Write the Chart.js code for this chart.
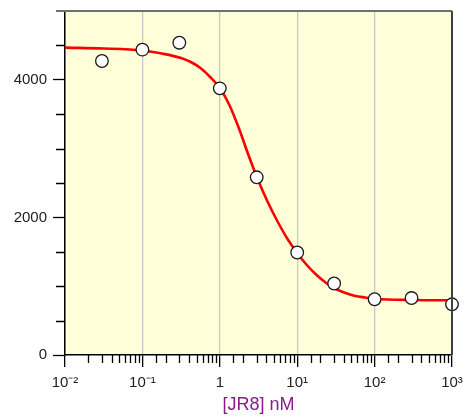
<!DOCTYPE html>
<html><head><meta charset="utf-8">
<script src="https://cdn.jsdelivr.net/npm/chart.js@4/dist/chart.umd.min.js"></script>
<style>html,body{margin:0;padding:0;background:#fff}</style>
</head><body>
<canvas id="c" width="467" height="417" style="width:467px;height:417px;display:block"></canvas>
<script>
// Measured data points: concentration [JR8] (nM) and response
const concentrations = [0.03, 0.1, 0.3, 1, 3, 10, 30, 100, 300, 1000];
const responses = [4273, 4438, 4539, 3876, 2583, 1490, 1039, 810, 828, 737];

// Fitted curve at sample concentrations
const curveX = [0.01, 0.0316, 0.1, 0.178, 0.316, 0.422, 0.562, 0.75, 1,
                1.33, 1.78, 2.37, 3.16, 4.22, 5.62, 7.5, 10,
                13.3, 17.8, 23.7, 31.6, 42.2, 56.2, 75, 100, 316, 1000];
const curveY = [4467, 4455, 4426, 4382, 4317, 4259, 4172, 4041, 3881,
                3634, 3285, 2892, 2529, 2209, 1933, 1686, 1483,
                1308, 1163, 1047, 959, 901, 858, 836, 818, 799, 795];

// Axis tick labels
const xTickLabels = {"-2": "10\u207B\u00B2", "-1": "10\u207B\u00B9", "0": "1", "1": "10\u00B9", "2": "10\u00B2", "3": "10\u00B3"};
const yTickLabels = [0, 2000, 4000];
const xTitle = "[JR8] nM";

Chart.defaults.font.family = "'Liberation Sans', Arial, sans-serif";
Chart.defaults.font.size = 15;

const isDecade = v => Math.abs(Math.log10(v) - Math.round(Math.log10(v))) < 1e-9;

const decorPlugin = {
  id: 'decor',
  beforeDraw(chart) {
    const a = chart.chartArea, ctx = chart.ctx;
    ctx.save();
    ctx.fillStyle = '#FFFFDA';
    ctx.fillRect(a.left, a.top, a.right - a.left, a.bottom - a.top);
    ctx.restore();
  },
  afterDraw(chart) {
    const a = chart.chartArea, ctx = chart.ctx;
    const xs = chart.scales.x, ys = chart.scales.y;
    ctx.save();
    ctx.strokeStyle = '#000';
    ctx.lineWidth = 1.3;
    ctx.beginPath();
    xs.ticks.forEach(t => {
      if (!isDecade(t.value)) {
        const px = Math.round(xs.getPixelForValue(t.value)) + 0.5;
        ctx.moveTo(px, a.bottom);
        ctx.lineTo(px, a.bottom + 8);
      }
    });
    ys.ticks.forEach(t => {
      if (t.value % 2000 !== 0 && t.value < 5000) {
        const py = Math.round(ys.getPixelForValue(t.value)) + 0.5;
        ctx.moveTo(a.left, py);
        ctx.lineTo(a.left - 9, py);
      }
    });
    ctx.stroke();
    ctx.strokeStyle = '#707070';
    ctx.lineWidth = 2;
    ctx.beginPath();
    ctx.moveTo(a.left - 9, a.top);
    ctx.lineTo(a.right, a.top);
    ctx.stroke();
    ctx.strokeStyle = '#404040';
    ctx.lineWidth = 2;
    ctx.beginPath();
    ctx.moveTo(a.right, a.top);
    ctx.lineTo(a.right, a.bottom);
    ctx.stroke();
    ctx.restore();
  }
};

new Chart(document.getElementById('c'), {
  type: 'scatter',
  data: {
    datasets: [
      {
        label: 'data',
        data: concentrations.map((x, i) => ({x: x, y: responses[i]})),
        pointRadius: 6.3,
        pointBackgroundColor: '#ffffff',
        pointBorderColor: '#1a1a1a',
        pointBorderWidth: 1.3,
        showLine: false,
        clip: false,
        order: 0
      },
      {
        label: 'fit',
        data: curveX.map((x, i) => ({x: x, y: curveY[i]})),
        showLine: true,
        pointRadius: 0,
        borderColor: '#ff0000',
        borderWidth: 2.6,
        cubicInterpolationMode: 'monotone',
        order: 1
      }
    ]
  },
  options: {
    responsive: false,
    animation: false,
    devicePixelRatio: 1,
    layout: {padding: {top: 11, right: 15, left: 0, bottom: 0}},
    plugins: {legend: {display: false}, tooltip: {enabled: false}},
    scales: {
      x: {
        type: 'logarithmic',
        min: 0.01, max: 1000,
        afterFit: s => { s.height = 62; s.paddingLeft = 0; s.paddingRight = 0; },
        border: {color: '#000', width: 1.5},
        grid: {
          color: c => (c.tick && isDecade(c.tick.value)) ? '#c8c8c8' : 'rgba(0,0,0,0)',
          lineWidth: 1.3,
          tickColor: c => (c.tick && isDecade(c.tick.value)) ? '#000' : 'rgba(0,0,0,0)',
          tickWidth: 1.3,
          tickLength: 12,
          drawOnChartArea: true
        },
        ticks: {
          autoSkip: false,
          maxRotation: 0,
          padding: 7,
          color: '#222',
          font: {size: 15},
          callback: v => isDecade(v) ? (xTickLabels[String(Math.round(Math.log10(v)))] || '') : ''
        },
        title: {
          display: true,
          text: xTitle,
          color: '#8C1A8C',
          font: {size: 18},
          padding: {top: 0, bottom: 1}
        }
      },
      y: {
        min: 0, max: 5000,
        afterFit: s => { s.width = 65; s.paddingTop = 0; s.paddingBottom = 0; },
        border: {color: '#000', width: 1.5},
        grid: {
          drawOnChartArea: false,
          tickLength: 12,
          tickWidth: 1.3,
          tickColor: c => (c.tick && yTickLabels.includes(c.tick.value)) ? '#000' : 'rgba(0,0,0,0)'
        },
        ticks: {
          stepSize: 500,
          autoSkip: false,
          padding: 6,
          color: '#222',
          font: {size: 15},
          callback: v => yTickLabels.includes(v) ? String(v) : ''
        }
      }
    }
  },
  plugins: [decorPlugin]
});
</script>
</body></html>
